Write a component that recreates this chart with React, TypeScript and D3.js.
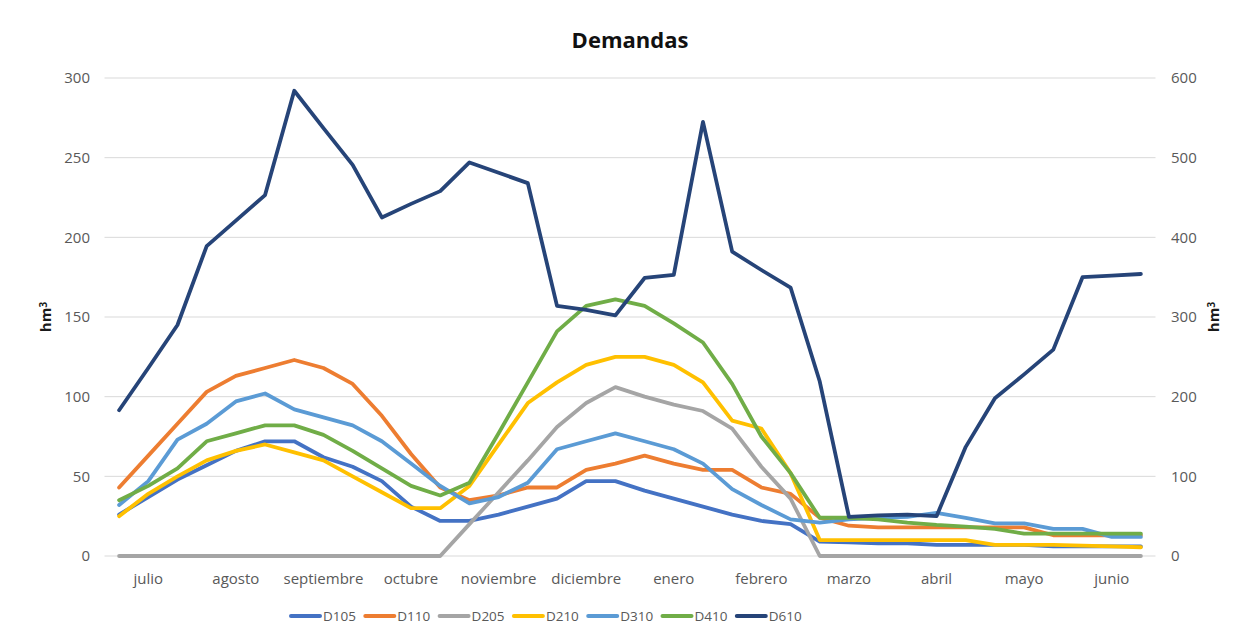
import React, { useEffect, useRef } from 'react';
import * as d3 from 'd3';

// Meses (3 puntos por mes, 36 en total)
const months = ['julio', 'agosto', 'septiembre', 'octubre', 'noviembre', 'diciembre',
  'enero', 'febrero', 'marzo', 'abril', 'mayo', 'junio'];

const leftTicks = [0, 50, 100, 150, 200, 250, 300];
const rightTicks = [0, 100, 200, 300, 400, 500, 600];

const D105 = [26, 37, 48, 57, 66, 72, 72, 62, 56, 47, 31, 22, 22, 26, 31, 36, 47, 47, 41, 36, 31, 26,
  22, 20, 9, 8.5, 8, 8, 7, 7, 7, 7, 6, 6, 6, 6];
const D110 = [43, 63, 83, 103, 113, 118, 123, 118, 108, 88, 64, 43, 35, 38, 43, 43, 54, 58, 63, 58, 54, 54,
  43, 39, 24, 19, 18, 18, 18, 18, 18, 18, 13, 13, 13, 13];
const D205 = [0, 0, 0, 0, 0, 0, 0, 0, 0, 0, 0, 0, 20, 40, 60, 81, 96, 106, 100, 95, 91, 80,
  56, 36, 0, 0, 0, 0, 0, 0, 0, 0, 0, 0, 0, 0];
const D210 = [25, 39, 50, 60, 66, 70, 65, 60, 50, 40, 30, 30, 44, 70, 96, 109, 120, 125, 125, 120, 109, 85,
  80, 52, 10, 10, 10, 10, 10, 10, 7, 7, 7, 6.5, 6, 5.5];
const D310 = [32, 47, 73, 83, 97, 102, 92, 87, 82, 72, 58, 44, 33, 37, 46, 67, 72, 77, 72, 67, 58, 42,
  32, 23, 21, 23, 24, 24.5, 27, 24, 20.5, 20.5, 17, 17, 12, 12];
const D410 = [35, 44, 55, 72, 77, 82, 82, 76, 66, 55, 44, 38, 46, 77, 109, 141, 157, 161, 157, 146, 134, 108,
  75, 52, 24, 24, 23, 21, 19.5, 18.5, 17, 14, 14, 14, 14, 14];
// eje secundario
const D610 = [183, 236, 290, 389, 421, 453, 584, 537, 491, 425, 442, 458, 494, 481, 468, 314, 309, 302,
  349, 353, 545, 382, 359, 337, 219, 49, 51, 52, 50, 137, 198, 228, 259, 350, 352, 354];

const seriesNames = ['D105', 'D110', 'D205', 'D210', 'D310', 'D410', 'D610'];
const seriesData = [D105, D110, D205, D210, D310, D410, D610];
const colors = ['#4472C4', '#ED7D31', '#A5A5A5', '#FFC000', '#5B9BD5', '#70AD47', '#264478'];

const W = 1250;
const H = 642;

export default function App() {
  const ref = useRef<SVGSVGElement>(null);

  useEffect(() => {
    const svg = d3.select(ref.current);
    svg.selectAll('*').remove();

    const font = '"Open Sans", sans-serif';
    const margin = { top: 78, right: 94.5, bottom: 86, left: 104.5 };

    svg.append('rect')
      .attr('x', 7.5).attr('y', 5.5)
      .attr('width', 1236).attr('height', 632)
      .attr('fill', '#fff').attr('stroke', '#d0d0d0');

    const idx = d3.range(36);
    const x = d3.scalePoint<number>()
      .domain(idx)
      .range([margin.left, W - margin.right])
      .padding(0.5);

    const yL = d3.scaleLinear().domain([0, 300]).range([H - margin.bottom, margin.top]);
    const yR = d3.scaleLinear().domain([0, 600]).range([H - margin.bottom, margin.top]);

    // gridlines
    svg.append('g')
      .selectAll('line')
      .data(leftTicks)
      .enter()
      .append('line')
      .attr('x1', margin.left).attr('x2', W - margin.right)
      .attr('y1', (d) => yL(d)).attr('y2', (d) => yL(d))
      .attr('stroke', '#d9d9d9').attr('stroke-width', 1);

    // left axis labels
    svg.append('g')
      .selectAll('text')
      .data(leftTicks)
      .enter()
      .append('text')
      .attr('x', 90).attr('y', (d) => yL(d))
      .attr('dy', '0.35em')
      .attr('text-anchor', 'end')
      .style('font-family', font).style('font-size', '15px')
      .attr('fill', '#595959')
      .text((d) => d);

    // right axis labels
    svg.append('g')
      .selectAll('text')
      .data(rightTicks)
      .enter()
      .append('text')
      .attr('x', 1171).attr('y', (d) => yR(d))
      .attr('dy', '0.35em')
      .attr('text-anchor', 'start')
      .style('font-family', font).style('font-size', '15px')
      .attr('fill', '#595959')
      .text((d) => d);

    // month labels
    svg.append('g')
      .selectAll('text')
      .data(months)
      .enter()
      .append('text')
      .attr('x', (_, i) => x(i * 3 + 1) as number)
      .attr('y', 579)
      .attr('dy', '0.35em')
      .attr('text-anchor', 'middle')
      .style('font-family', font).style('font-size', '15px')
      .attr('fill', '#595959')
      .text((d) => d);

    // axis titles
    const axisTitle = (tx: number, label: string) => {
      const t = svg.append('text')
        .attr('transform', `translate(${tx}, 317) rotate(-90)`)
        .attr('text-anchor', 'middle')
        .attr('dy', '0.35em')
        .style('font-family', font).style('font-size', '15px').style('font-weight', 'bold')
        .attr('fill', '#1a1a1a');
      t.append('tspan').text(label);
      t.append('tspan').attr('dy', '-0.45em').style('font-size', '10px').text('3');
    };
    axisTitle(46, 'hm');
    axisTitle(1214, 'hm');

    // title
    svg.append('text')
      .attr('x', 630).attr('y', 40)
      .attr('dy', '0.35em')
      .attr('text-anchor', 'middle')
      .style('font-family', font).style('font-size', '22px').style('font-weight', 'bold')
      .attr('fill', '#111')
      .text('Demandas');

    // lines
    seriesData.forEach((vals, s) => {
      const yS = s === 6 ? yR : yL;
      const line = d3.line<number>()
        .x((_, i) => x(i) as number)
        .y((d) => yS(d));
      svg.append('path')
        .datum(vals)
        .attr('d', line)
        .attr('fill', 'none')
        .attr('stroke', colors[s])
        .attr('stroke-width', 3.8)
        .attr('stroke-linejoin', 'round')
        .attr('stroke-linecap', 'round');
    });

    // legend
    const legend = svg.append('g');
    seriesNames.forEach((name, s) => {
      const lx = 291 + s * 74.3;
      legend.append('line')
        .attr('x1', lx).attr('x2', lx + 29)
        .attr('y1', 616).attr('y2', 616)
        .attr('stroke', colors[s]).attr('stroke-width', 4)
        .attr('stroke-linecap', 'round');
      legend.append('text')
        .attr('x', lx + 32).attr('y', 616)
        .attr('dy', '0.35em')
        .style('font-family', font).style('font-size', '13.5px')
        .attr('fill', '#595959')
        .text(name);
    });
  }, []);

  return <svg ref={ref} width={W} height={H} style={{ display: 'block', margin: '-8px' }} />;
}
